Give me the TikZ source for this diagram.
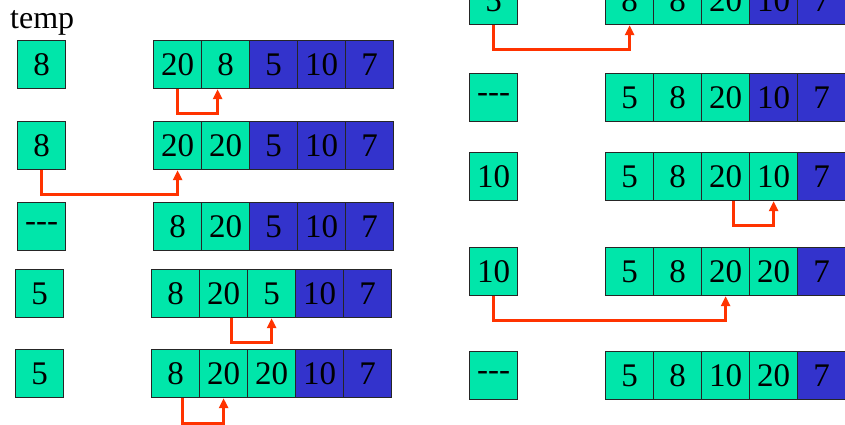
\documentclass[tikz,border=0pt]{standalone}
\usepackage{fontspec}
\setmainfont{Liberation Serif}
\usetikzlibrary{arrows.meta}
\definecolor{mint}{RGB}{0,230,170}
\definecolor{royal}{RGB}{51,51,204}
\definecolor{swapred}{RGB}{255,51,0}

\begin{document}
\begin{tikzpicture}[x=1pt, y=-1pt, >={Triangle[length=10pt,width=9pt]},
	cell/.style={draw=black!85, line width=1.2pt, minimum width=48pt, minimum height=48pt, inner sep=0pt, anchor=north west, font=\fontsize{33}{33}\selectfont},
	done/.style={cell, fill=mint}, todo/.style={cell, fill=royal},
	shiftline/.style={->, draw=swapred, line width=3pt}]
	\useasboundingbox (0,0) rectangle (845,424);
	\clip (0,0) rectangle (845,424);
	\node[anchor=base west, inner sep=0pt, font=\fontsize{32}{32}\selectfont] (templabel) at (10,28) {temp};
	% each row: temp cell, then the array; the first \g cells are already sorted
	\foreach \r/\tx/\ax/\y/\tv/\vals/\g in {
		L1/17/153/40/8/{20,8,5,10,7}/2,
		L2/17/153/121/8/{20,20,5,10,7}/2,
		L3/17/153/202/{-{}-{}-}/{8,20,5,10,7}/2,
		L4/15/151/269/5/{8,20,5,10,7}/3,
		L5/15/151/349/5/{8,20,20,10,7}/3,
		R1/469/605/-24/5/{8,8,20,10,7}/3,
		R2/469/605/73/{-{}-{}-}/{5,8,20,10,7}/3,
		R3/469/605/152/10/{5,8,20,10,7}/4,
		R4/469/605/247/10/{5,8,20,20,7}/4,
		R5/469/605/351/{-{}-{}-}/{5,8,10,20,7}/4}{
		\node[done] (t\r) at (\tx,\y) {\tv};
		\foreach \v [count=\i] in \vals {
			\ifnum\i>\g \def\cs{todo}\else\def\cs{done}\fi
			\node[\cs] (c\r-\i) at (\ax+48*\i-48,\y) {\v};
		}
	}
	% shifts
	\draw[shiftline] (cL1-1.south) -- ++(0,24) -| ([xshift=-8pt]cL1-2.south);
	\draw[shiftline] (tL2.south) -- ++(0,24) -| (cL2-1.south);
	\draw[shiftline] ([xshift=8pt]cL4-2.south) -- ++(0,24) -| (cL4-3.south);
	\draw[shiftline] ([xshift=7pt]cL5-1.south) -- ++(0,25) -| (cL5-2.south);
	\draw[shiftline] (tR1.south) -- ++(0,24) -| (cR1-1.south);
	\draw[shiftline] ([xshift=8pt]cR3-3.south) -- ++(0,24) -| (cR3-4.south);
	\draw[shiftline] (tR4.south) -- ++(0,24) -| (cR4-3.south);
\end{tikzpicture}
\end{document}
